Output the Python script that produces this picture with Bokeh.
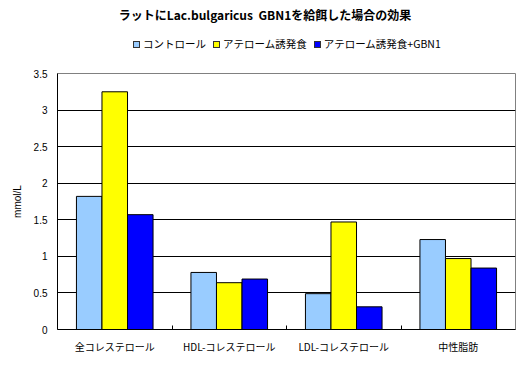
from bokeh.plotting import figure
from bokeh.layouts import column
from bokeh.models import ColumnDataSource, FixedTicker, Range1d, CustomJSTickFormatter, Div
from bokeh.embed import file_html
from bokeh.resources import INLINE

title_text = "ラットにLac.bulgaricus  GBN1を給餌した場合の効果"
categories = ["全コレステロール", "HDL-コレステロール", "LDL-コレステロール", "中性脂肪"]
series_names = ["コントロール", "アテローム誘発食", "アテローム誘発食+GBN1"]
control = [1.82, 0.78, 0.49, 1.23]
athero = [3.25, 0.64, 1.47, 0.97]
athero_gbn = [1.57, 0.69, 0.31, 0.84]
colors = ["#99CCFF", "#FFFF00", "#0000FF"]
y_ticks = [0, 0.5, 1, 1.5, 2, 2.5, 3, 3.5]

JP = "Noto Sans CJK JP"

# ---- header: title + legend (HTML text) ----
legend_html = "".join(
    f'<span style="display:inline-block;width:7px;height:7px;background:{c};'
    f'border:1px solid #333;margin-right:3px;vertical-align:middle;position:relative;top:-1px"></span>'
    f'<span style="margin-right:7px">{n}</span>'
    for c, n in zip(colors, series_names))
head_html = (
    f'<div style="position:relative;width:520px;height:65px;font-family:\'{JP}\';color:#000;">'
    f'<div style="position:absolute;left:0;top:6px;width:530px;text-align:center;'
    f'font-size:12px;font-weight:bold;line-height:18px;white-space:pre;">{title_text}</div>'
    f'<div style="position:absolute;left:133px;top:36px;font-size:10.5px;line-height:16px;'
    f'white-space:nowrap;">{legend_html}</div>'
    f'</div>')
head = Div(text=head_html, width=520, height=65, margin=0)

# ---- main chart ----
p = figure(frame_width=458, frame_height=256, output_backend="svg", toolbar_location=None,
           x_range=Range1d(0, len(categories)), y_range=Range1d(0, 3.5))
p.min_border_left = 57
p.min_border_right = 5
p.min_border_top = 8
p.min_border_bottom = 30
p.background_fill_color = "white"
p.border_fill_color = "white"
p.outline_line_color = "#808080"

centers = [i + 0.5 for i in range(len(categories))]
bw = 0.223
for k, vals in enumerate([control, athero, athero_gbn]):
    xs = [c + (k - 1) * bw for c in centers]
    src = ColumnDataSource(dict(x=xs, top=vals))
    p.vbar(x="x", top="top", width=bw, bottom=0, source=src,
           fill_color=colors[k], line_color="black", line_width=1)

p.xaxis.ticker = FixedTicker(ticks=centers, minor_ticks=[1, 2, 3])
p.xaxis.major_label_overrides = {c: categories[i] for i, c in enumerate(centers)}
p.xaxis.major_tick_line_color = None
p.xaxis.minor_tick_in = 4
p.xaxis.minor_tick_out = 0
p.xaxis.minor_tick_line_color = "black"
p.xaxis.axis_line_color = "black"
p.xaxis.major_label_text_font = JP
p.xaxis.major_label_text_font_size = "10px"
p.xaxis.major_label_text_color = "black"
p.xaxis.major_label_standoff = 3

p.yaxis.ticker = FixedTicker(ticks=y_ticks)
p.yaxis.formatter = CustomJSTickFormatter(code="return tick.toString();")
p.yaxis.major_tick_in = 0
p.yaxis.major_tick_out = 0
p.yaxis.minor_tick_line_color = None
p.yaxis.axis_line_color = "black"
p.yaxis.major_label_text_font = "Liberation Sans"
p.yaxis.major_label_text_font_size = "10px"
p.yaxis.major_label_text_color = "black"
p.yaxis.major_label_standoff = 10
p.yaxis.axis_label = "mmol/L"
p.yaxis.axis_label_text_font = "Liberation Sans"
p.yaxis.axis_label_text_font_style = "normal"
p.yaxis.axis_label_text_font_size = "10px"
p.yaxis.axis_label_text_color = "black"
p.yaxis.axis_label_standoff = 8

p.xgrid.grid_line_color = None
p.ygrid.grid_line_color = "black"
p.ygrid.grid_line_width = 1

layout = column(head, p, spacing=0)
open("out.html", "w").write(file_html(layout, INLINE))
